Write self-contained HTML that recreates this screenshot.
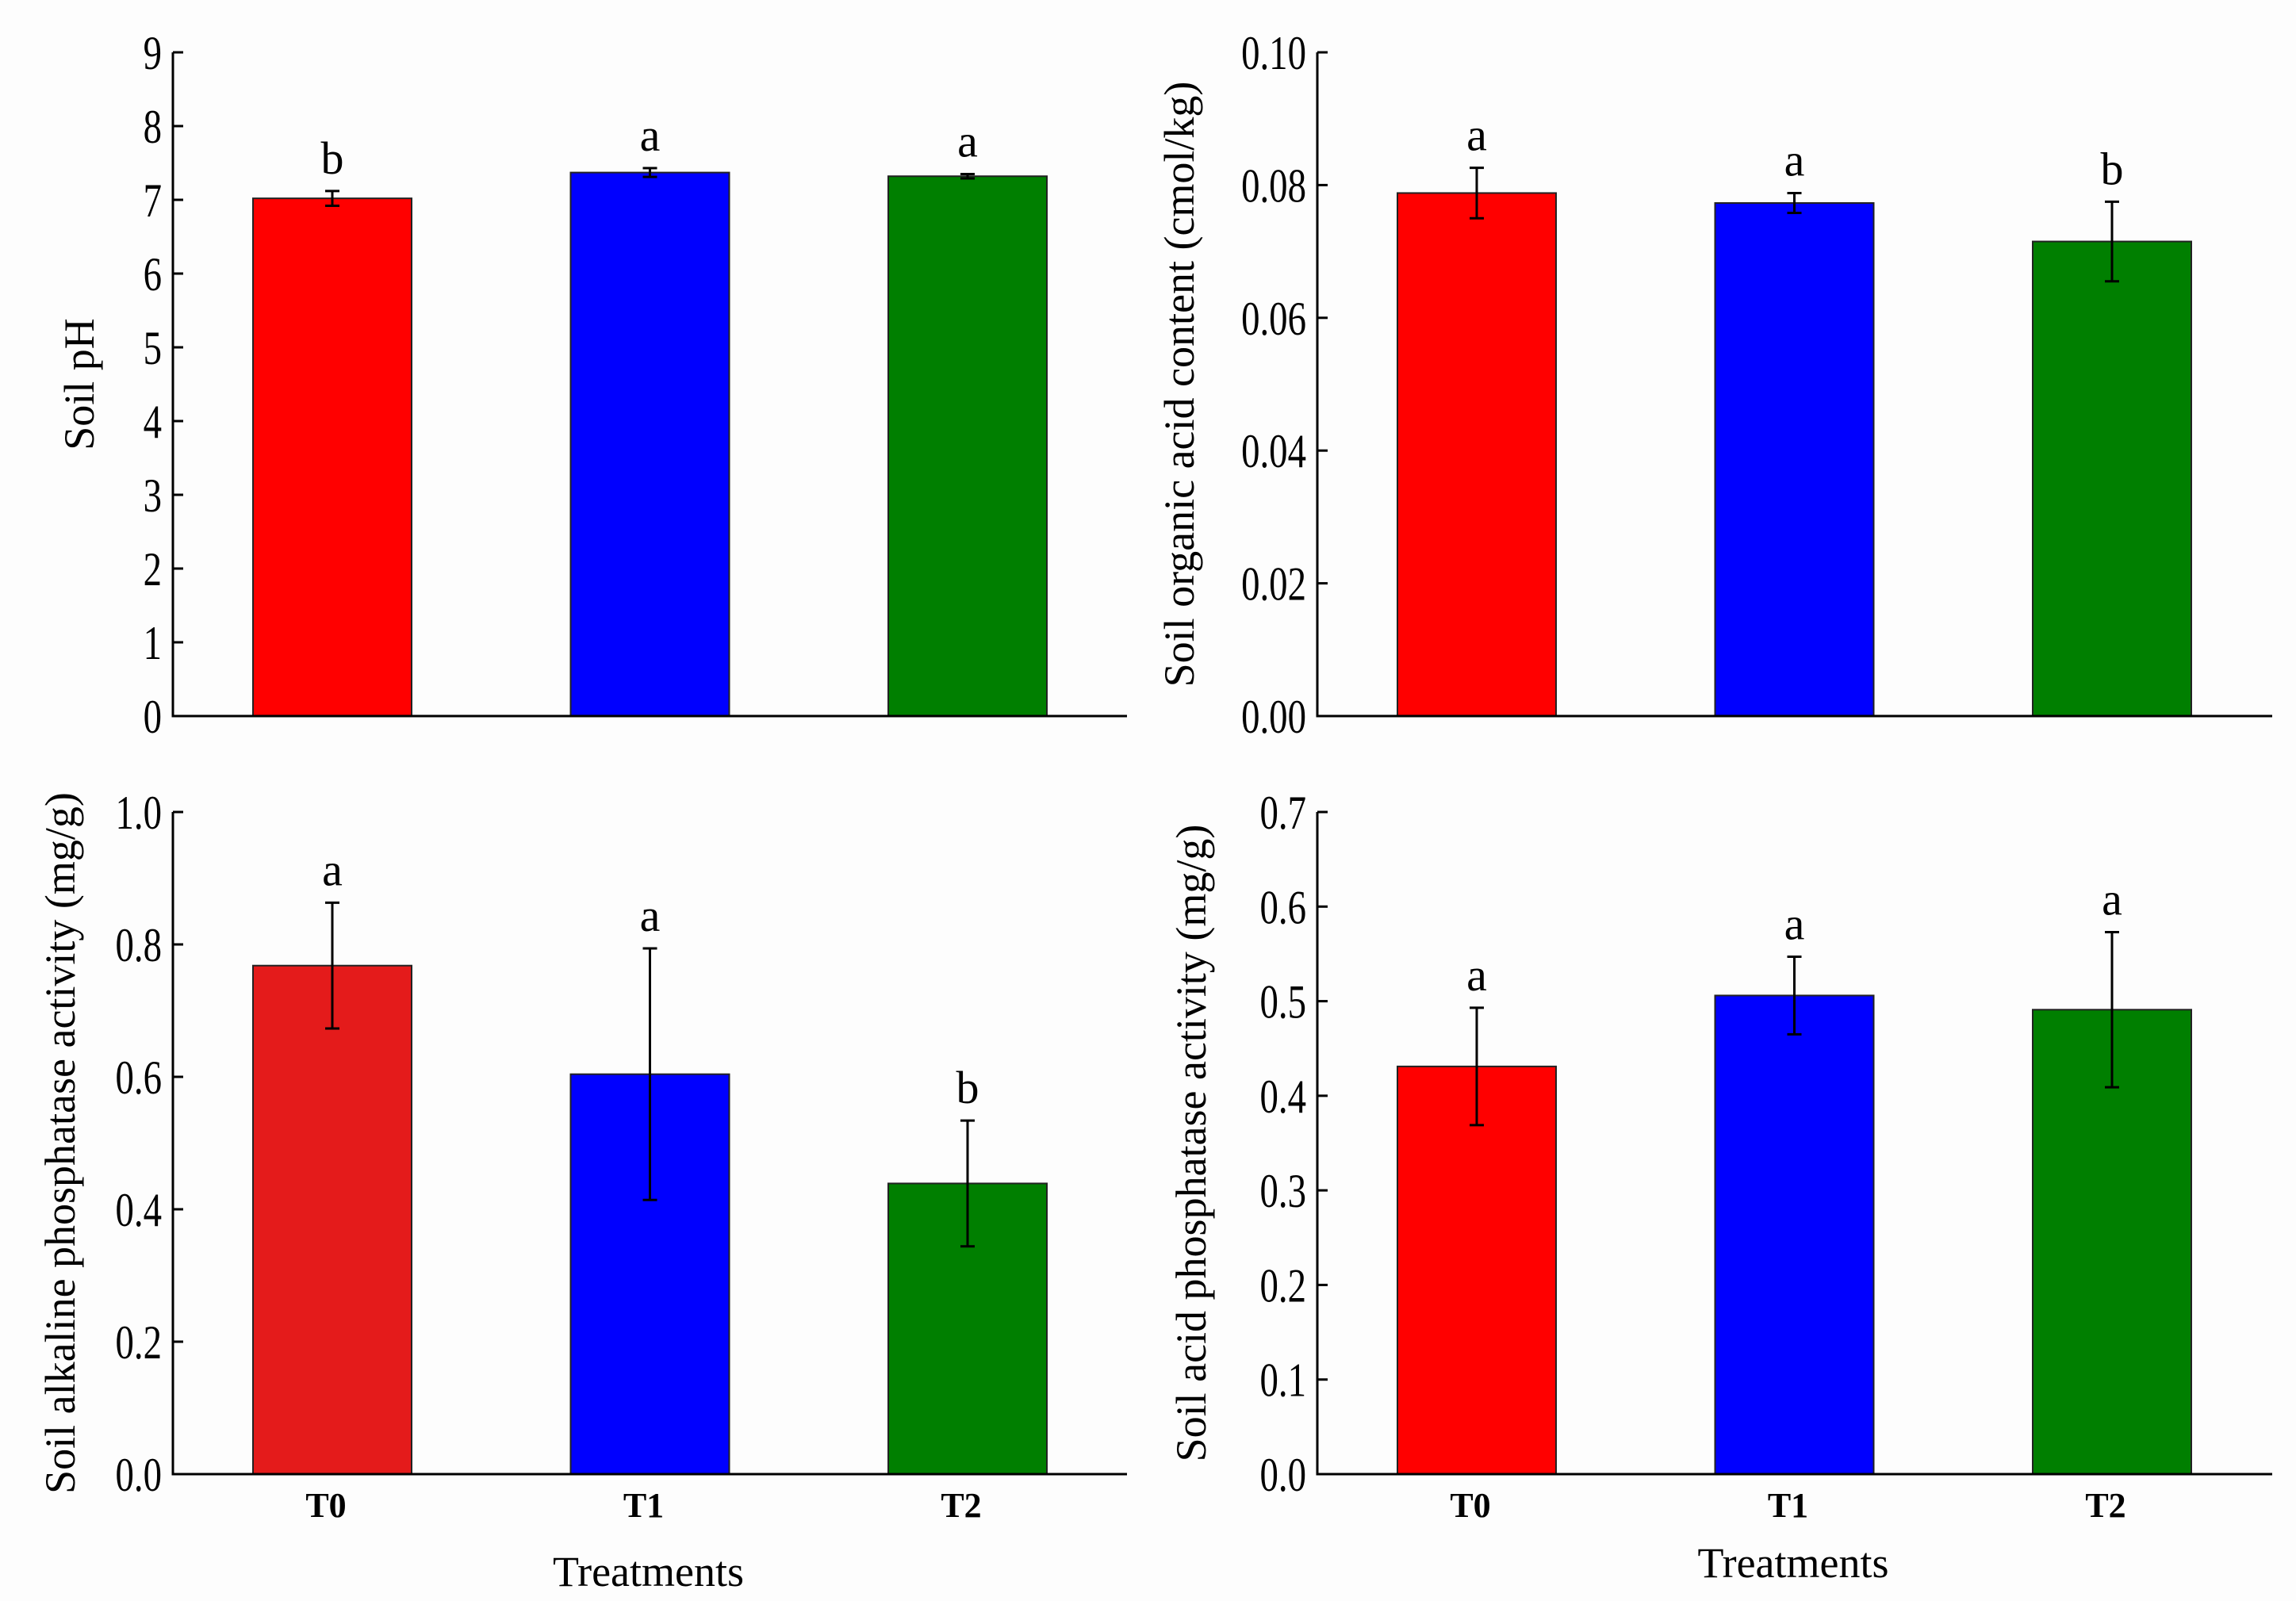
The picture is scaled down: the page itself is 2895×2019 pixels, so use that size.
<!DOCTYPE html>
<html><head><meta charset="utf-8"><style>
html,body{margin:0;padding:0;background:#fdfdfd;}
svg{display:block;font-family:"Liberation Serif",serif;}
</style></head><body>
<svg id="fig" width="2895" height="2019" viewBox="0 0 2895 2019" xmlns="http://www.w3.org/2000/svg">
<rect width="2895" height="2019" fill="#fdfdfd"/>
</svg>
<script>
const categories = ["T0","T1","T2"];
const phValues = [7.02, 7.37, 7.32];
const phErrors = [0.10, 0.06, 0.03];
const phLetters = ["b","a","a"];
const phTicks = ["0","1","2","3","4","5","6","7","8","9"];
const oaValues = [0.0788, 0.0773, 0.0715];
const oaErrors = [0.0038, 0.0015, 0.0060];
const oaLetters = ["a","a","b"];
const oaTicks = ["0.00","0.02","0.04","0.06","0.08","0.10"];
const alpValues = [0.768, 0.604, 0.439];
const alpErrors = [0.095, 0.190, 0.095];
const alpLetters = ["a","a","b"];
const alpTicks = ["0.0","0.2","0.4","0.6","0.8","1.0"];
const acpValues = [0.431, 0.506, 0.491];
const acpErrors = [0.062, 0.041, 0.082];
const acpLetters = ["a","a","a"];
const acpTicks = ["0.0","0.1","0.2","0.3","0.4","0.5","0.6","0.7"];

const NS = "http://www.w3.org/2000/svg";
const svg = document.getElementById("fig");
function mk(tag, attrs, parent){
  const e = document.createElementNS(NS, tag);
  for (const k in attrs) e.setAttribute(k, attrs[k]);
  (parent||svg).appendChild(e);
  return e;
}
function panel(cfg){
  const g = mk("g", {});
  
  
  const ticks = cfg.ticks.map(Number);
  const yMax = ticks[ticks.length-1];
  const yS = v => cfg.y0 - (v / yMax) * (cfg.y0 - cfg.yTop);
  const xC = i => cfg.x0 + cfg.firstC + i * cfg.step;
  const bw = 200;
  cfg.values.forEach((v,i)=>{
    const r = mk("rect", {x:xC(i)-bw/2, y:yS(v), width:bw, height:cfg.y0-yS(v), fill:cfg.colors[i], stroke:"#222", "stroke-width":2}, g);
    
    
    const hi = yS(v + cfg.errors[i]), lo = yS(v - cfg.errors[i]);
    const eb = mk("path", {d:`M${xC(i)} ${hi}V${lo}M${xC(i)-9} ${hi}H${xC(i)+9}M${xC(i)-9} ${lo}H${xC(i)+9}`, stroke:"#000", "stroke-width":3, fill:"none"}, g);
    
    
    const t = mk("text", {x:xC(i), y:hi-22, "text-anchor":"middle", "font-size":58}, g);
    t.textContent = cfg.letters[i];
    
    
    if (cfg.xlabels){
      const xl = mk("text", {x:xC(i)-8, y:cfg.y0+54, "text-anchor":"middle", "font-size":44, "font-weight":"bold"}, g);
      xl.textContent = categories[i];
      
      
    }
  });
  const ax = mk("path", {d:`M${cfg.x0} ${cfg.yTop}V${cfg.y0}H${cfg.xEnd}`, stroke:"#000", "stroke-width":3, fill:"none"}, g);
  
  
  cfg.ticks.forEach((lab)=>{
    const y = yS(Number(lab));
    const tk = mk("line", {x1:cfg.x0, x2:cfg.x0+13, y1:y, y2:y, stroke:"#000", "stroke-width":3}, g);
    
    
    const tl = mk("text", {x:cfg.x0-14, y:y+21, "text-anchor":"end", "font-size":60, transform:`translate(${(cfg.x0-14)*0.22} 0) scale(0.78 1)`}, g);
    tl.textContent = lab;
    
    
  });
  const yt = mk("text", {x:0, y:0, "text-anchor":"middle", "font-size":54, transform:`translate(${cfg.titleX} ${(cfg.yTop+cfg.y0)/2}) rotate(-90)`}, g);
  yt.textContent = cfg.title;
  
  
  if (cfg.xtitleY){
    const xt = mk("text", {x:cfg.x0+(cfg.xEnd-cfg.x0)/2-2, y:cfg.xtitleY, "text-anchor":"middle", "font-size":54}, g);
    xt.textContent = "Treatments";
    
    
  }
}
panel({name:"soil-ph-panel", x0:218, xEnd:1421, yTop:66, y0:903, firstC:201, step:400.5, ticks:phTicks, values:phValues, errors:phErrors, letters:phLetters, colors:["#ff0000","#0000ff","#007f00"], title:"Soil pH", titleX:118});
panel({name:"organic-acid-panel", x0:1661, xEnd:2865, yTop:66, y0:903, firstC:201, step:400.5, ticks:oaTicks, values:oaValues, errors:oaErrors, letters:oaLetters, colors:["#ff0000","#0000ff","#007f00"], title:"Soil organic acid content (cmol/kg)", titleX:1505});
panel({name:"alkaline-phosphatase-panel", x0:218, xEnd:1421, yTop:1024, y0:1859, firstC:201, step:400.5, ticks:alpTicks, values:alpValues, errors:alpErrors, letters:alpLetters, colors:["#e41b1b","#0000ff","#007f00"], title:"Soil alkaline phosphatase activity (mg/g)", titleX:94, xlabels:true, xtitleY:2000});
panel({name:"acid-phosphatase-panel", x0:1661, xEnd:2865, yTop:1024, y0:1859, firstC:201, step:400.5, ticks:acpTicks, values:acpValues, errors:acpErrors, letters:acpLetters, colors:["#ff0000","#0000ff","#007f00"], title:"Soil acid phosphatase activity (mg/g)", titleX:1520, xlabels:true, xtitleY:1989});
</script>
</body></html>
